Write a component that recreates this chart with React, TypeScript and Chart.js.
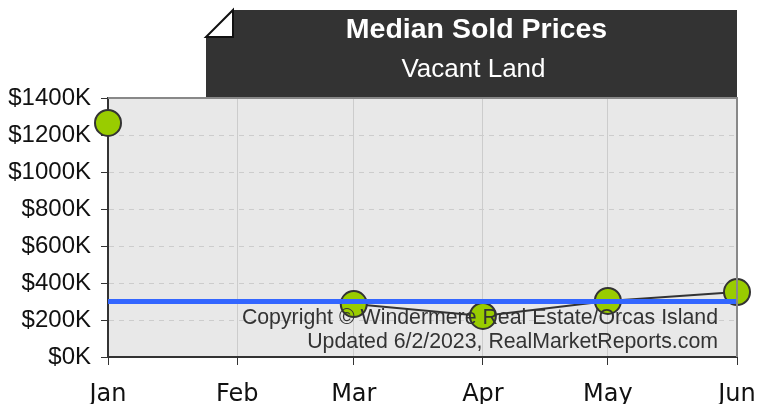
import React, { useEffect, useRef } from "react";
import { Chart, registerables } from "chart.js";

Chart.register(...registerables);

// Month labels and their day offsets from Jan 1 (2023)
const months = ["Jan", "Feb", "Mar", "Apr", "May", "Jun"];
const monthDays = [0, 31, 59, 90, 120, 151];
// Median sold price in $K (Feb has no sales)
const medianPrices: (number | null)[] = [1265, null, 286, 222, 303, 351];
const referenceLine = [300, 300, 300, 300, 300, 300];
const yTicks = [0, 200, 400, 600, 800, 1000, 1200, 1400];
const titleText = "Median Sold Prices";
const subtitleText = "Vacant Land";
const copyrightLines = [
  "Copyright © Windermere Real Estate/Orcas Island",
  "Updated 6/2/2023, RealMarketReports.com",
];

const decorPlugin = {
  id: "decor",
  beforeDraw(chart: any) {
    const { ctx, chartArea } = chart;
    ctx.save();
    ctx.fillStyle = "#e8e8e8";
    ctx.fillRect(chartArea.left, chartArea.top, chartArea.right - chartArea.left, chartArea.bottom - chartArea.top);
    ctx.restore();
  },
  afterDatasetsDraw(chart: any) {
    const { ctx, chartArea } = chart;
    ctx.save();
    ctx.strokeStyle = "#888";
    ctx.lineWidth = 2;
    ctx.beginPath();
    ctx.moveTo(chartArea.left, chartArea.top);
    ctx.lineTo(chartArea.right, chartArea.top);
    ctx.lineTo(chartArea.right, chartArea.bottom);
    ctx.stroke();
    ctx.fillStyle = "#333";
    ctx.font = "21.3px 'Liberation Sans', Arial, sans-serif";
    ctx.textAlign = "right";
    ctx.textBaseline = "middle";
    ctx.fillText(copyrightLines[0], chartArea.right - 19, chartArea.bottom - 39);
    ctx.fillText(copyrightLines[1], chartArea.right - 19, chartArea.bottom - 15);
    ctx.restore();
  },
  afterDraw(chart: any) {
    const { ctx, chartArea } = chart;
    const left = 206;
    const right = chartArea.right;
    const top = 10;
    const bottom = chartArea.top - 1;
    const fold = 27;
    ctx.save();
    ctx.fillStyle = "#333";
    ctx.beginPath();
    ctx.moveTo(left + fold, top);
    ctx.lineTo(right, top);
    ctx.lineTo(right, bottom);
    ctx.lineTo(left, bottom);
    ctx.lineTo(left, top + fold);
    ctx.closePath();
    ctx.fill();
    ctx.fillStyle = "#fff";
    ctx.strokeStyle = "#111";
    ctx.lineWidth = 2;
    ctx.beginPath();
    ctx.moveTo(left + fold, top);
    ctx.lineTo(left + fold, top + fold);
    ctx.lineTo(left, top + fold);
    ctx.closePath();
    ctx.fill();
    ctx.stroke();
    const cx = (left + right) / 2 + 2;
    ctx.fillStyle = "#fff";
    ctx.textAlign = "center";
    ctx.textBaseline = "middle";
    ctx.font = "bold 28.5px 'Liberation Sans', Arial, sans-serif";
    ctx.fillText(titleText, cx + 3, 30);
    ctx.font = "26px 'Liberation Sans', Arial, sans-serif";
    ctx.fillText(subtitleText, cx, 70);
    ctx.restore();
  },
};

export default function App() {
  const canvasRef = useRef<HTMLCanvasElement>(null);

  useEffect(() => {
    const canvas = canvasRef.current;
    if (!canvas) return;
    const chart = new Chart(canvas, {
      type: "line",
      data: {
        datasets: [
          {
            label: "Reference",
            data: monthDays.map((d, i) => ({ x: d, y: referenceLine[i] })),
            borderColor: "#3366ff",
            borderWidth: 5,
            pointRadius: 0,
            pointHoverRadius: 0,
            fill: false,
            order: 0,
            clip: false as any,
          },
          {
            label: "Median",
            data: monthDays.map((d, i) => ({ x: d, y: medianPrices[i] as any })),
            borderColor: "#333",
            borderWidth: 2,
            pointRadius: 13,
            pointBorderWidth: 2,
            pointBackgroundColor: "#99cc00",
            pointBorderColor: "#333",
            spanGaps: false,
            tension: 0,
            fill: false,
            order: 1,
            clip: false as any,
          },
        ],
      },
      options: {
        animation: false,
        responsive: false,
        maintainAspectRatio: false,
        layout: { padding: { top: 98, right: 20, left: 0, bottom: 0 } },
        plugins: {
          legend: { display: false },
          tooltip: { enabled: false },
          title: { display: false },
        },
        scales: {
          x: {
            type: "linear",
            min: monthDays[0],
            max: monthDays[monthDays.length - 1],
            afterBuildTicks: (scale: any) => {
              scale.ticks = monthDays.map((v) => ({ value: v }));
            },
            afterFit: (scale: any) => {
              scale.height = 47;
              scale.paddingLeft = 0;
              scale.paddingRight = 0;
            },
            grid: {
              color: "#cccccc",
              lineWidth: 1,
              drawTicks: true,
              tickLength: 8,
              tickColor: "#333",
            },
            border: { display: true, color: "#333", width: 2 },
            ticks: {
              color: "#111",
              padding: 15,
              maxRotation: 0,
              autoSkip: false,
              font: { family: "'DejaVu Sans'", size: 24 },
              callback: (v: any) => {
                const i = monthDays.indexOf(Number(v));
                return i >= 0 ? months[i] : "";
              },
            },
          },
          y: {
            min: 0,
            max: 1400,
            afterFit: (scale: any) => {
              scale.width = 108;
              scale.paddingTop = 0;
              scale.paddingBottom = 0;
            },
            afterBuildTicks: (scale: any) => {
              scale.ticks = yTicks.map((v) => ({ value: v }));
            },
            grid: {
              color: (c: any) => (c.tick && c.tick.value === 0 ? "rgba(0,0,0,0)" : "#cccccc"),
              tickBorderDash: [],
              tickColor: "#333",
              drawTicks: true,
              tickLength: 7,
            } as any,
            border: { display: true, color: "#333", width: 2, dash: [5, 5] } as any,
            ticks: {
              color: "#111",
              padding: 10,
              font: { family: "'Liberation Sans', Arial, sans-serif", size: 24 },
              callback: (v: any) => "$" + v + "K",
            },
          },
        },
      },
      plugins: [decorPlugin],
    });
    return () => chart.destroy();
  }, []);

  return (
    <div style={{ position: "fixed", left: 0, top: 0, width: 757, height: 404, background: "#fff" }}>
      <canvas ref={canvasRef} width={757} height={404} style={{ width: 757, height: 404 }} />
    </div>
  );
}
